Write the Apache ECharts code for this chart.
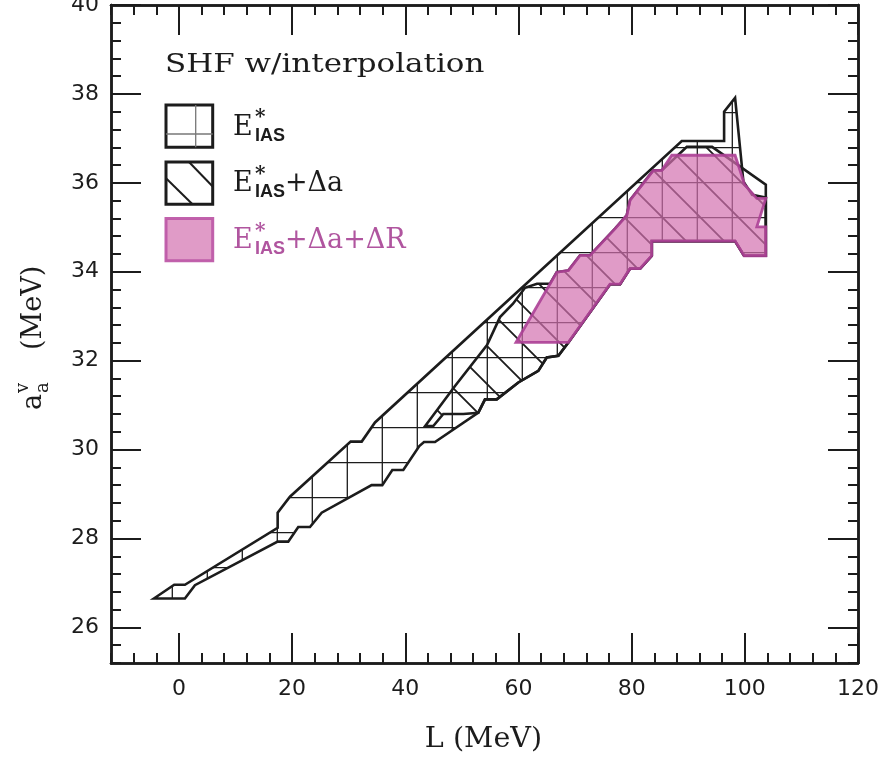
<!DOCTYPE html>
<html><head><meta charset="utf-8">
<script src="https://cdn.jsdelivr.net/npm/echarts@6/dist/echarts.min.js"></script>
<style>html,body{margin:0;padding:0;background:#fff}#c{width:885px;height:761px}</style>
</head><body><div id="c"></div>
<script>
// ---- axis ranges and ticks ----
const xRange = [-12, 120];
const yRange = [25.2, 40];
const xMajorTicks = [0, 20, 40, 60, 80, 100, 120];
const yMajorTicks = [26, 28, 30, 32, 34, 36, 38, 40];
const xMinorStep = 4;
const yMinorStep = 0.4;

// ---- region outlines: [L (MeV), a_a^v (MeV)] ----
const regionIAS = [
  [-4.42,26.65],[-0.83,26.96],[1.06,26.96],[17.45,28.24],[17.45,28.58],[19.62,28.94],
  [30.35,30.18],[32.30,30.18],[34.65,30.61],[88.86,36.94],[96.34,36.94],[96.34,37.60],
  [98.28,37.91],[99.75,36.03],[101.29,35.73],[103.71,35.67],[103.71,34.36],[99.87,34.36],
  [98.28,34.69],[83.56,34.69],[83.56,34.36],[81.49,34.07],[79.72,34.07],[77.96,33.72],
  [76.19,33.72],[68.82,32.41],[67.05,32.11],[65.00,32.07],[63.51,31.77],[59.98,31.51],
  [56.16,31.13],[54.09,31.13],[52.91,30.83],[45.25,30.17],[43.31,30.17],[42.48,30.08],
  [39.65,29.54],[37.71,29.54],[35.94,29.20],[34.06,29.20],[25.23,28.58],[23.16,28.26],
  [21.09,28.26],[19.32,27.93],[17.45,27.93],[2.83,26.95],[1.06,26.65]
];
const regionDa = [
  [43.52,30.53],[48.79,31.43],[54.45,32.35],[56.74,32.98],[59.04,33.28],[61.16,33.64],
  [63.28,33.73],[65.58,33.73],[66.77,33.99],[68.82,34.03],[70.89,34.37],[72.65,34.37],
  [77.07,34.97],[79.14,35.27],[79.72,35.61],[83.84,36.28],[85.33,36.28],[89.75,36.81],
  [94.22,36.81],[103.71,35.96],[103.71,34.36],[99.87,34.36],[98.28,34.69],[83.56,34.69],
  [83.56,34.36],[81.49,34.07],[79.72,34.07],[77.96,33.72],[76.19,33.72],[68.82,32.41],
  [67.05,32.11],[65.00,32.07],[63.51,31.77],[59.98,31.51],[56.16,31.13],[54.09,31.13],
  [52.91,30.83],[50.26,30.80],[46.72,30.80],[44.95,30.53]
];
const regionDaDR = [
  [59.57,32.41],[68.82,32.41],[76.19,33.72],[77.96,33.72],[79.72,34.07],[81.49,34.07],
  [83.56,34.36],[83.56,34.69],[98.28,34.69],[99.87,34.36],[103.71,34.36],[103.71,35.01],
  [102.12,35.01],[103.71,35.65],[102.12,35.65],[99.96,35.96],[98.28,36.62],[87.10,36.62],
  [85.33,36.28],[83.84,36.28],[79.72,35.61],[79.14,35.27],[77.07,34.97],[72.65,34.37],
  [70.89,34.37],[68.82,34.03],[66.77,33.99]
];

const titleText = 'SHF w/interpolation';
const xName = 'L (MeV)';

// ---- styling ----
const INK = '#1c1c1c';
const MAG = '#b0559f';
const PINK_FILL = 'rgba(211,112,175,0.70)';
const MAG_STROKE = 'rgba(172,64,150,0.9)';
const SERIF = '"DejaVu Serif", serif';
const SANS = '"DejaVu Sans", sans-serif';

function makeGridPattern() {
  const c = document.createElement('canvas'); c.width = 35; c.height = 35;
  const g = c.getContext('2d');
  g.strokeStyle = INK; g.lineWidth = 1.3;
  g.beginPath(); g.moveTo(32.3, 0); g.lineTo(32.3, 35); g.moveTo(0, 7.7); g.lineTo(35, 7.7); g.stroke();
  return { image: c, repeat: 'repeat' };
}
function makeDiagPattern() {
  const s = 38;
  const c = document.createElement('canvas'); c.width = s; c.height = s;
  const g = c.getContext('2d');
  g.strokeStyle = INK; g.lineWidth = 1.8;
  g.beginPath();
  for (const k of [-2, -1, 0, 1, 2]) { const c0 = 27 + k * s; g.moveTo(c0 - 6, -6); g.lineTo(c0 + s + 6, s + 6); }
  g.stroke();
  return { image: c, repeat: 'repeat' };
}
const gridPattern = makeGridPattern();
const diagPattern = makeDiagPattern();

function stepValues(lo, hi, step) {
  const out = []; const n = Math.round((hi - lo) / step);
  for (let i = 0; i <= n; i++) out.push(Math.round((lo + i * step) * 1000) / 1000);
  return out;
}
const xMinorTicks = stepValues(xRange[0], xRange[1], xMinorStep);
const yMinorTicks = stepValues(yRange[0], yRange[1], yMinorStep);

const axisLine = { show: true, onZero: false, lineStyle: { color: INK, width: 2.5 } };
function xAxisDef(pos, ticks, len, showLabel) {
  return {
    type: 'value', min: xRange[0], max: xRange[1], position: pos, gridIndex: 0,
    axisLine: axisLine, splitLine: { show: false },
    axisTick: { show: true, inside: true, length: len, customValues: ticks, lineStyle: { color: INK, width: 2 } },
    axisLabel: showLabel ? { show: true, customValues: xMajorTicks, margin: 15, fontSize: 22, color: INK, fontFamily: SANS } : { show: false }
  };
}
function yAxisDef(pos, ticks, len, showLabel) {
  return {
    type: 'value', min: yRange[0], max: yRange[1], position: pos, gridIndex: 0,
    axisLine: axisLine, splitLine: { show: false },
    axisTick: { show: true, inside: true, length: len, customValues: ticks, lineStyle: { color: INK, width: 2 } },
    axisLabel: showLabel ? { show: true, customValues: yMajorTicks, margin: 12, fontSize: 22, color: INK, fontFamily: SANS } : { show: false }
  };
}

function txt(x, y, text, size, opts) {
  opts = opts || {};
  return { type: 'text', x: x, y: y, silent: true,
    style: { text: text, font: (opts.weight || 'normal') + ' ' + size + 'px ' + (opts.family || SERIF),
      fill: opts.color || INK, textAlign: opts.align || 'left', textVerticalAlign: 'middle' } };
}
// baseline -> middle offset
function mid(baseline, size) { return baseline - 0.33 * size; }

function legendLabel(x, baseline, tail, color) {
  return [
    txt(x, mid(baseline, 27), 'E', 27, { color: color }),
    txt(x + 22, mid(baseline - 12, 20), '*', 20, { color: color, weight: 'bold' }),
    txt(x + 22, mid(baseline + 5, 18), 'IAS', 18, { color: color, family: '"Liberation Sans", sans-serif', weight: 'bold' }),
    tail ? txt(x + 52, mid(baseline, 27), tail, 27, { color: color }) : null
  ].filter(Boolean);
}

const graphics = [];
// title, stretched horizontally to match the wide original face
graphics.push({ type: 'group', x: 165, y: mid(74.3, 26), scaleX: 1.19, scaleY: 1, silent: true,
  children: [txt(0, 0, titleText, 26)] });
// legend boxes
graphics.push({ type: 'rect', shape: { x: 166, y: 105, width: 46.7, height: 42.3 }, style: { fill: '#fff', stroke: INK, lineWidth: 3 } });
graphics.push({ type: 'line', shape: { x1: 195.7, y1: 105, x2: 195.7, y2: 147.3 }, style: { stroke: '#777', lineWidth: 1.3 } });
graphics.push({ type: 'line', shape: { x1: 166, y1: 134, x2: 212.7, y2: 134 }, style: { stroke: '#777', lineWidth: 1.3 } });
graphics.push({ type: 'rect', shape: { x: 166, y: 162, width: 46.7, height: 42.3 }, style: { fill: '#fff', stroke: INK, lineWidth: 3 } });
graphics.push({ type: 'line', shape: { x1: 189, y1: 162, x2: 212.7, y2: 186.5 }, style: { stroke: INK, lineWidth: 2 } });
graphics.push({ type: 'line', shape: { x1: 166, y1: 178.3, x2: 192.5, y2: 204.3 }, style: { stroke: INK, lineWidth: 2 } });
graphics.push({ type: 'rect', shape: { x: 166, y: 218.5, width: 46.7, height: 42.3 }, style: { fill: PINK_FILL, stroke: 'rgba(190,90,168,0.95)', lineWidth: 3 } });
legendLabel(233, 136.7, null, INK).forEach(g => graphics.push(g));
legendLabel(233, 193.3, '+\u0394a', INK).forEach(g => graphics.push(g));
legendLabel(233, 250, '+\u0394a+\u0394R', MAG).forEach(g => graphics.push(g));
// x axis title
graphics.push({ type: 'group', x: 483.5, y: 740, scaleX: 1.06, scaleY: 1, silent: true,
  children: [txt(0, 0, xName, 27, { align: 'center' })] });
// y axis title (rotated)
graphics.push({
  type: 'group', x: 43, y: 410, rotation: Math.PI / 2, silent: true,
  children: [
    txt(0, mid(0, 27), 'a', 27),
    txt(17, mid(-14, 18), 'v', 18),
    txt(17, mid(6, 18), 'a', 18),
    txt(60, mid(0, 27), '(MeV)', 27)
  ]
});

const option = {
  animation: false,
  backgroundColor: '#fff',
  grid: { left: 111, top: 5, right: 27, bottom: 98, containLabel: false, outerBoundsMode: 'none' },
  xAxis: [
    xAxisDef('bottom', xMajorTicks, 30, true),
    xAxisDef('bottom', xMinorTicks, 10, false),
    xAxisDef('top', xMajorTicks, 30, false),
    xAxisDef('top', xMinorTicks, 10, false)
  ],
  yAxis: [
    yAxisDef('left', yMajorTicks, 30, true),
    yAxisDef('left', yMinorTicks, 10, false),
    yAxisDef('right', yMajorTicks, 30, false),
    yAxisDef('right', yMinorTicks, 10, false)
  ],
  series: [{
    type: 'custom', xAxisIndex: 0, yAxisIndex: 0, silent: true,
    data: [[0, 0]],
    renderItem: function (params, api) {
      const pts = arr => arr.map(p => api.coord(p));
      return {
        type: 'group',
        children: [
          { type: 'polygon', shape: { points: pts(regionIAS) }, style: { fill: gridPattern, stroke: null } },
          { type: 'polygon', shape: { points: pts(regionDa) }, style: { fill: diagPattern, stroke: null } },
          { type: 'polygon', shape: { points: pts(regionIAS) }, style: { fill: 'none', stroke: INK, lineWidth: 2.6, lineJoin: 'miter' } },
          { type: 'polygon', shape: { points: pts(regionDa) }, style: { fill: 'none', stroke: INK, lineWidth: 2.6, lineJoin: 'miter' } },
          { type: 'polygon', shape: { points: pts(regionDaDR) }, style: { fill: PINK_FILL, stroke: MAG_STROKE, lineWidth: 2.8, lineJoin: 'miter' } }
        ]
      };
    }
  }],
  graphic: graphics
};

const chart = echarts.init(document.getElementById('c'), null, { renderer: 'canvas', width: 885, height: 761 });
chart.setOption(option);
</script>
</body></html>
